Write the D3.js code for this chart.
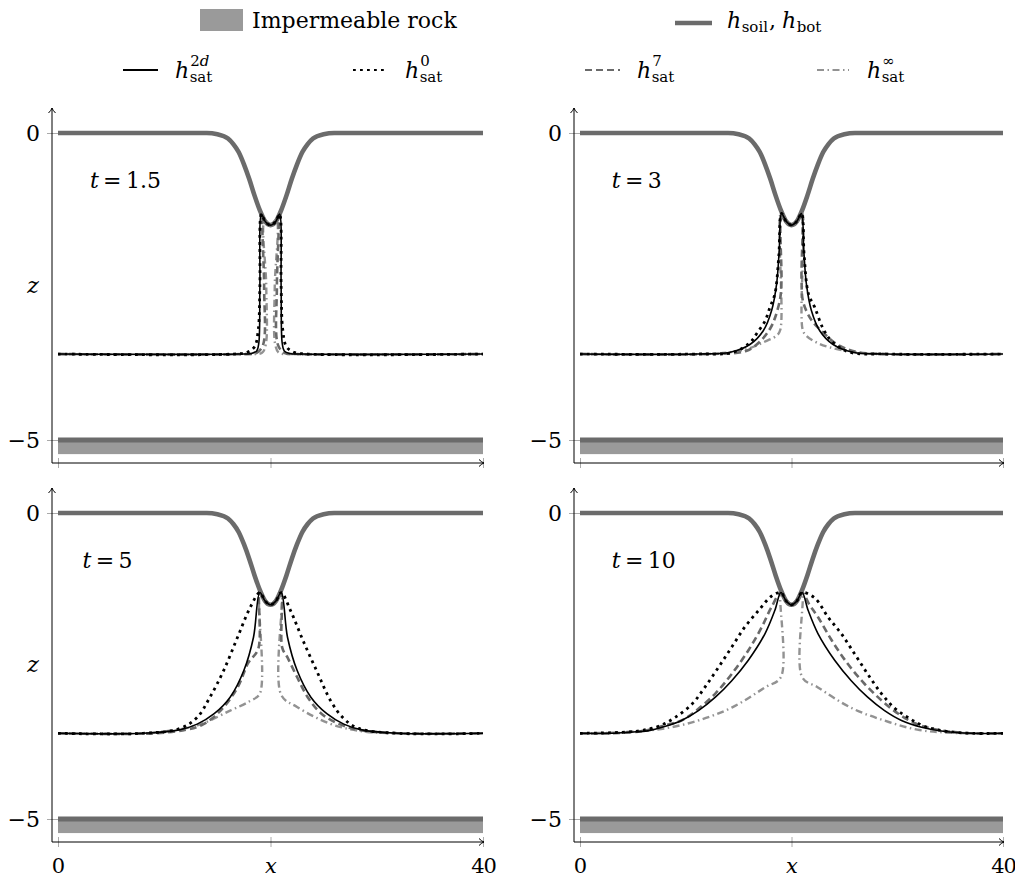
<!DOCTYPE html>
<html>
<head>
<meta charset="utf-8">
<script src="https://cdn.jsdelivr.net/npm/d3@7/dist/d3.min.js"></script>
<style>
    body { margin: 0; background: #fff; }
    svg text { font-family: "DejaVu Serif", serif; fill: #000; }
</style>
</head>
<body>
<svg id="chart" width="1015" height="882"></svg>
<script>
// Soil surface h_soil (same in every panel), x in [0, 40], z in metres
const soilX = [0, 14, 15, 16, 16.5, 17, 17.5, 18, 18.5, 19, 19.5, 20, 20.5, 21, 21.5, 22, 22.5, 23, 23.5, 24, 25, 26, 40];
const soilZ = [0, 0, -0.02, -0.09, -0.18, -0.31, -0.51, -0.75, -1.02, -1.26, -1.44, -1.5, -1.44, -1.26, -1.02, -0.75, -0.51, -0.31, -0.18, -0.09, -0.02, 0, 0];

// Bottom of the aquifer and impermeable layer
const hBot = -5;
const rockBottom = -5.23;
const xDomain = [0, 40];

const times = ['1.5', '3', '5', '10'];

// Saturated height at t = 1.5
const h2d_t1 = [[0, -3.6], [17, -3.6], [18.2, -3.59], [18.7, -3.55], [18.9, -3.42], [19.0, -2.5], [19.15, -1.32], [19.5, -1.44], [20, -1.5], [20.5, -1.44], [20.85, -1.32], [21.0, -2.5], [21.1, -3.42], [21.3, -3.55], [21.8, -3.59], [23, -3.6], [40, -3.6]];
const h0_t1 = [[0, -3.6], [16.5, -3.6], [17.8, -3.57], [18.5, -3.48], [18.85, -3.2], [19.0, -2.5], [19.15, -1.32], [19.5, -1.44], [20, -1.5], [20.5, -1.44], [20.85, -1.32], [21.0, -2.5], [21.15, -3.2], [21.5, -3.48], [22.2, -3.57], [23.5, -3.6], [40, -3.6]];
const h7_t1 = [[0, -3.6], [17.5, -3.6], [18.7, -3.58], [19.3, -3.45], [19.4, -2.5], [19.3, -1.38], [19.5, -1.44], [20, -1.5], [20.5, -1.44], [20.7, -1.38], [20.6, -2.5], [20.7, -3.45], [21.3, -3.58], [22.5, -3.6], [40, -3.6]];
const hinf_t1 = [[0, -3.6], [18, -3.6], [19.2, -3.58], [19.55, -3.45], [19.6, -2.5], [19.45, -1.42], [20, -1.5], [20.55, -1.42], [20.4, -2.5], [20.45, -3.45], [20.8, -3.58], [22, -3.6], [40, -3.6]];

// t = 3
const h2d_t3 = [[0, -3.6], [11, -3.6], [14.2, -3.57], [16.1, -3.44], [17.33, -3.22], [18.12, -2.89], [18.59, -2.46], [18.84, -1.91], [19.06, -1.31], [19.5, -1.44], [20, -1.5], [20.5, -1.44], [20.94, -1.31], [21.16, -1.91], [21.41, -2.46], [21.88, -2.89], [22.67, -3.22], [23.9, -3.44], [25.8, -3.57], [29, -3.6], [40, -3.6]];
const h0_t3 = [[0, -3.6], [11, -3.6], [14.5, -3.57], [16.1, -3.41], [16.7, -3.27], [17.5, -3.06], [17.96, -2.84], [18.43, -2.62], [18.8, -2.0], [19.06, -1.31], [19.5, -1.44], [20, -1.5], [20.5, -1.44], [20.94, -1.31], [21.2, -2.0], [21.6, -2.62], [22.2, -2.84], [23.0, -3.19], [23.9, -3.41], [25.5, -3.57], [29, -3.6], [40, -3.6]];
const h7_t3 = [[0, -3.6], [12, -3.6], [15.7, -3.55], [17, -3.4], [18.0, -3.18], [18.5, -2.98], [18.95, -2.67], [19.05, -2.4], [19.06, -1.31], [19.5, -1.44], [20, -1.5], [20.5, -1.44], [20.94, -1.31], [20.95, -2.4], [21.1, -2.75], [21.9, -3.05], [23.0, -3.25], [24.2, -3.43], [26, -3.56], [29, -3.6], [40, -3.6]];
const hinf_t3 = [[0, -3.6], [12, -3.6], [14.2, -3.57], [15.8, -3.52], [17.33, -3.41], [18.6, -3.3], [18.95, -3.2], [19.0, -1.31], [19.5, -1.44], [20, -1.5], [20.5, -1.44], [21.0, -1.31], [21.05, -3.2], [21.4, -3.3], [22.35, -3.41], [23.6, -3.49], [25.5, -3.56], [28, -3.6], [40, -3.6]];

// t = 5
const h2d_t5 = [[0, -3.6], [8, -3.6], [11.5, -3.54], [13.1, -3.45], [14.7, -3.28], [16.2, -3.01], [17.5, -2.57], [18.4, -2.03], [19.0, -1.3], [19.5, -1.44], [20, -1.5], [20.5, -1.44], [21.0, -1.3], [21.6, -2.03], [22.5, -2.57], [23.8, -3.01], [25.3, -3.28], [26.9, -3.45], [28.5, -3.54], [32, -3.6], [40, -3.6]];
const h0_t5 = [[0, -3.6], [8, -3.6], [11.5, -3.52], [13.1, -3.34], [14.3, -3.01], [15.6, -2.57], [16.9, -2.03], [18.1, -1.54], [19.0, -1.3], [19.5, -1.44], [20, -1.5], [20.5, -1.44], [21.0, -1.3], [21.9, -1.6], [23.1, -2.1], [24.4, -2.6], [25.7, -3.08], [26.9, -3.36], [28.3, -3.52], [32, -3.6], [40, -3.6]];
const h7_t5 = [[0, -3.6], [9, -3.6], [12.1, -3.54], [13.7, -3.45], [15.3, -3.23], [16.9, -2.85], [17.9, -2.45], [18.85, -2.22], [19.0, -1.3], [19.5, -1.44], [20, -1.5], [20.5, -1.44], [21.0, -1.3], [21.1, -2.2], [21.6, -2.36], [22.5, -2.68], [23.5, -3.01], [24.8, -3.28], [26.5, -3.45], [28.5, -3.55], [32, -3.6], [40, -3.6]];
const hinf_t5 = [[0, -3.6], [8, -3.6], [9.9, -3.57], [13.1, -3.47], [16.2, -3.23], [18.1, -3.07], [19.0, -2.95], [19.0, -1.3], [19.5, -1.44], [20, -1.5], [20.5, -1.44], [21.0, -1.3], [21.0, -2.97], [22.5, -3.17], [25.7, -3.45], [28.8, -3.57], [32, -3.6], [40, -3.6]];

// t = 10
const h2d_t10 = [[0, -3.6], [3, -3.6], [4.8, -3.58], [6.4, -3.56], [8, -3.49], [9.6, -3.39], [11.2, -3.23], [12.8, -3.01], [14.35, -2.74], [15.9, -2.41], [17.5, -1.97], [18.43, -1.59], [19.0, -1.3], [19.5, -1.44], [20, -1.5], [20.5, -1.44], [21.0, -1.3], [21.57, -1.59], [22.5, -1.97], [24.1, -2.41], [25.65, -2.74], [27.2, -3.01], [28.8, -3.23], [30.4, -3.39], [32.3, -3.5], [34.5, -3.57], [37, -3.6], [40, -3.6]];
const h0_t10 = [[0, -3.6], [3, -3.59], [5.6, -3.56], [7.5, -3.48], [9, -3.34], [10.6, -3.12], [11.8, -2.85], [13.1, -2.52], [14.35, -2.19], [15.6, -1.86], [16.9, -1.59], [18.1, -1.36], [19.0, -1.3], [19.5, -1.44], [20, -1.5], [20.5, -1.44], [21.0, -1.3], [22.2, -1.39], [23.45, -1.7], [24.7, -1.97], [25.96, -2.3], [27.2, -2.63], [28.5, -2.95], [29.7, -3.18], [31, -3.34], [32.5, -3.48], [34.4, -3.56], [37, -3.6], [40, -3.6]];
const h7_t10 = [[0, -3.6], [3, -3.6], [6, -3.56], [8, -3.47], [9.6, -3.39], [11.2, -3.2], [12.8, -2.95], [14.35, -2.63], [15.9, -2.25], [17.2, -1.86], [18.1, -1.54], [19.0, -1.3], [19.5, -1.44], [20, -1.5], [20.5, -1.44], [21.0, -1.3], [21.7, -1.5], [22.5, -1.7], [23.8, -2.08], [25.3, -2.46], [26.9, -2.79], [28.5, -3.06], [30.1, -3.28], [31.6, -3.43], [33.2, -3.52], [36, -3.59], [40, -3.6]];
const hinf_t10 = [[0, -3.6], [3, -3.59], [5, -3.57], [8, -3.52], [11.2, -3.39], [14.35, -3.18], [17.5, -2.85], [19.0, -2.68], [19.0, -1.3], [19.5, -1.44], [20, -1.5], [20.5, -1.44], [21.0, -1.3], [21.0, -2.68], [22.5, -2.85], [25.6, -3.18], [28.75, -3.39], [31.9, -3.54], [35, -3.59], [40, -3.6]];

const seriesNames = ['hinf', 'h7', 'h0', 'h2d'];

// Line styles of the four approximations + soil/rock
const styles = {
    h2d: { stroke: '#000', width: 1.6, dash: null },
    h0: { stroke: '#000', width: 2.8, dash: '2.8 4.2' },
    h7: { stroke: '#6a6a6a', width: 2.6, dash: '7 4' },
    hinf: { stroke: '#929292', width: 2.4, dash: '7 3.5 1.5 3.5' }
};
const soilColor = '#6b6b6b';
const rockColor = '#9a9a9a';

const panels = [
    { t: times[0], data: { h2d: h2d_t1, h0: h0_t1, h7: h7_t1, hinf: hinf_t1 }, x0: 58, x1: 483, y0: 133, y5: 440, labelX: 3.0, xLabels: false, zLabel: true },
    { t: times[1], data: { h2d: h2d_t3, h0: h0_t3, h7: h7_t3, hinf: hinf_t3 }, x0: 580, x1: 1003, y0: 133, y5: 440, labelX: 3.0, xLabels: false, zLabel: false },
    { t: times[2], data: { h2d: h2d_t5, h0: h0_t5, h7: h7_t5, hinf: hinf_t5 }, x0: 58, x1: 483, y0: 513, y5: 819, labelX: 2.3, xLabels: true, zLabel: true },
    { t: times[3], data: { h2d: h2d_t10, h0: h0_t10, h7: h7_t10, hinf: hinf_t10 }, x0: 580, x1: 1003, y0: 513, y5: 819, labelX: 3.0, xLabels: true, zLabel: false }
];

const svg = d3.select('#chart');

// Petit "->" de pgfplots
function arrowHead(g, x, y, dir) {
    const p = dir === 'up'
        ? `M${x - 3.5},${y + 5} Q${x - 0.5},${y + 2} ${x},${y} Q${x + 0.5},${y + 2} ${x + 3.5},${y + 5}`
        : `M${x - 5},${y - 3.5} Q${x - 2},${y - 0.5} ${x},${y} Q${x - 2},${y + 0.5} ${x - 5},${y + 3.5}`;
    g.append('path').attr('d', p).attr('fill', 'none').attr('stroke', '#000').attr('stroke-width', 1);
}

function drawPanel(p) {
    const g = svg.append('g');
    const x = d3.scaleLinear().domain(xDomain).range([p.x0, p.x1]);
    const y = d3.scaleLinear().domain([hBot, 0]).range([p.y5, p.y0]);

    const axisX = p.x0 - 6;
    const axisY = p.y5 + 23;

    // impermeable rock + h_bot
    g.append('rect')
        .attr('x', x(0)).attr('y', y(hBot))
        .attr('width', x(40) - x(0)).attr('height', y(rockBottom) - y(hBot))
        .attr('fill', rockColor);
    g.append('line')
        .attr('x1', x(0)).attr('x2', x(40)).attr('y1', y(hBot)).attr('y2', y(hBot))
        .attr('stroke', soilColor).attr('stroke-width', 5);

    // axes
    const yAxis = d3.axisLeft(y).tickValues([-5, 0]).tickSize(0).tickPadding(12)
        .tickFormat(d => d === 0 ? '0' : '\u22125');
    const ya = g.append('g').attr('transform', `translate(${axisX},0)`).call(yAxis);
    ya.select('.domain').remove();
    ya.selectAll('.tick line').attr('x1', -5).attr('x2', 6).attr('stroke', '#aaa').attr('stroke-width', 1);
    ya.selectAll('.tick text').attr('font-size', 22).attr('font-family', '"DejaVu Serif", serif').attr('dy', '0.36em');

    const xAxis = d3.axisBottom(x).tickValues([0, 20, 40]).tickSize(0).tickPadding(16)
        .tickFormat(d => p.xLabels ? (d === 20 ? 'x' : String(d)) : '');
    const xa = g.append('g').attr('transform', `translate(0,${axisY})`).call(xAxis);
    xa.select('.domain').remove();
    xa.selectAll('.tick line').attr('y1', -5).attr('y2', 5).attr('stroke', '#aaa').attr('stroke-width', 1);
    xa.selectAll('.tick text').attr('font-size', 21).attr('font-family', '"DejaVu Serif", serif')
        .attr('font-style', d => d === 20 ? 'italic' : 'normal')
        .attr('letter-spacing', d => d === 40 ? '-1px' : null);

    g.append('line').attr('x1', axisX).attr('x2', axisX).attr('y1', axisY).attr('y2', p.y0 - 25)
        .attr('stroke', '#000').attr('stroke-width', 1);
    arrowHead(g, axisX, p.y0 - 25, 'up');
    g.append('line').attr('x1', axisX).attr('x2', x(40) + 1).attr('y1', axisY).attr('y2', axisY)
        .attr('stroke', '#000').attr('stroke-width', 1);
    arrowHead(g, x(40) + 1, axisY, 'right');

    if (p.zLabel) {
        g.append('text').attr('x', 33).attr('y', y(-2.6)).attr('text-anchor', 'middle')
            .attr('font-size', 22).attr('font-style', 'italic').text('z');
    }

    // h_soil
    const soilLine = d3.line().x((d, i) => x(soilX[i])).y(d => y(d)).curve(d3.curveMonotoneX);
    g.append('path').attr('d', soilLine(soilZ))
        .attr('fill', 'none').attr('stroke', soilColor).attr('stroke-width', 4.6);

    // h_sat curves
    const line = d3.line().x(d => x(d[0])).y(d => y(d[1])).curve(d3.curveCatmullRom.alpha(0.5));
    seriesNames.forEach(name => {
        const s = styles[name];
        g.append('path').attr('d', line(p.data[name]))
            .attr('fill', 'none').attr('stroke', s.stroke).attr('stroke-width', s.width)
            .attr('stroke-dasharray', s.dash).attr('stroke-linejoin', 'round');
    });

    // t = ...
    const tl = g.append('text').attr('x', x(p.labelX)).attr('y', y(-0.9)).attr('font-size', 22);
    tl.append('tspan').attr('font-style', 'italic').text('t');
    tl.append('tspan').text('\u2009=\u2009' + p.t);
}

panels.forEach(drawPanel);

// Legend -----------------------------------------------------------
const leg = svg.append('g');

function mathH(x, y, sub, sup) {
    const h = leg.append('text').attr('x', x).attr('y', y).attr('font-size', 22).attr('font-style', 'italic').text('h');
    const w = h.node().getComputedTextLength();
    const sb = leg.append('text').attr('x', x + w + 0.5).attr('y', y + 4).attr('font-size', 15).text(sub);
    let end = x + w + 0.5 + sb.node().getComputedTextLength();
    if (sup) {
        const sp = leg.append('text').attr('x', x + w + 1).attr('y', y - 12).attr('font-size', 15);
        sup.forEach(part => sp.append('tspan').attr('font-style', part.it ? 'italic' : 'normal').text(part.s));
        end = Math.max(end, x + w + 1 + sp.node().getComputedTextLength());
    }
    return end;
}

leg.append('rect').attr('x', 200).attr('y', 9).attr('width', 43).attr('height', 22).attr('fill', rockColor);
leg.append('text').attr('x', 252).attr('y', 28).attr('font-size', 22).text('Impermeable rock');

leg.append('line').attr('x1', 675).attr('x2', 712).attr('y1', 23).attr('y2', 23)
    .attr('stroke', soilColor).attr('stroke-width', 4.6);
let ex = mathH(727, 28, 'soil');
leg.append('text').attr('x', ex + 1).attr('y', 28).attr('font-size', 22).text(',');
mathH(ex + 14, 28, 'bot');

const legendRow = [
    { name: 'h2d', x1: 123, x2: 158, tx: 175, sup: [{ s: '2' }, { s: 'd', it: true }] },
    { name: 'h0', x1: 353, x2: 387, tx: 405, sup: [{ s: '0' }] },
    { name: 'h7', x1: 585, x2: 620, tx: 637, sup: [{ s: '7' }] },
    { name: 'hinf', x1: 817, x2: 849, tx: 867, sup: [{ s: '\u221e' }] }
];
legendRow.forEach(r => {
    const s = styles[r.name];
    leg.append('line').attr('x1', r.x1).attr('x2', r.x2).attr('y1', 70).attr('y2', 70)
        .attr('stroke', s.stroke).attr('stroke-width', 2).attr('stroke-dasharray', s.dash);
    mathH(r.tx, 78, 'sat', r.sup);
});
</script>
</body>
</html>
